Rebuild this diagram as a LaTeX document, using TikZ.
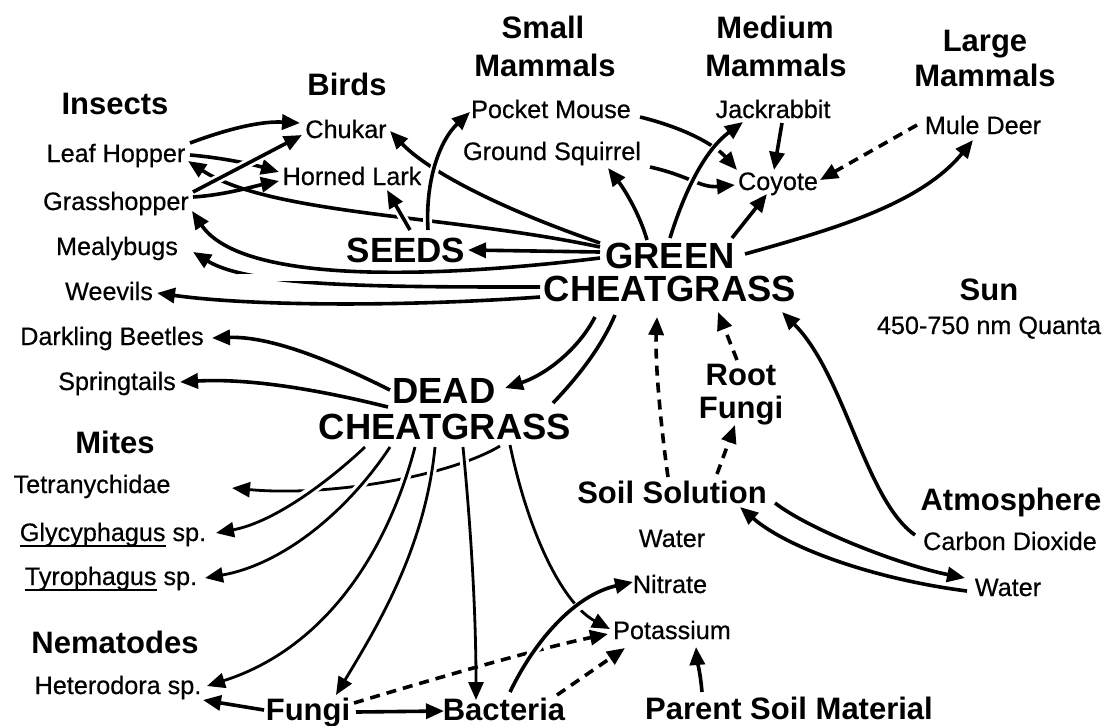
\documentclass[tikz,border=0pt]{standalone}
\usepackage{fontspec}
\setmainfont{Liberation Sans}
\newfontfamily\labfont{Liberation Sans}[FakeBold=0.5]
\usetikzlibrary{arrows.meta}
\newcommand\myul[1]{\setbox0=\hbox{#1}\rlap{\rule[-3pt]{\wd0}{0.9pt}}\box0\relax}
\begin{document}
\begin{tikzpicture}[x=0.5pt,y=-0.5pt,
  lab/.style={inner sep=0pt,anchor=base,font=\labfont\fontsize{12.6}{14}\selectfont},
  head/.style={inner sep=0pt,anchor=base,font=\fontsize{15.5}{18}\selectfont\bfseries},
  big/.style={inner sep=0pt,anchor=base,font=\fontsize{18.2}{20}\selectfont\bfseries},
  arr/.style={line width=1.8pt,-{Triangle[length=9pt,width=7.5pt]}},
  thinarr/.style={line width=1.4pt,-{Triangle[length=9pt,width=7.5pt]}},
  ln/.style={line width=1.8pt},
  dsh/.style={dash pattern=on 5pt off 3.5pt},
  halo/.style={preaction={draw=white,line width=4.5pt,-}},
]
\useasboundingbox (0,0) rectangle (1108,725);
% headings
\node[head] (insects) at (115,114) {Insects};
\node[head] (birds) at (347,95) {Birds};
\node[head] (small) at (543,38) {Small};
\node[head] (mamS) at (545,76) {Mammals};
\node[head] (medium) at (775,38) {Medium};
\node[head] (mamM) at (776,76) {Mammals};
\node[head] (large) at (985,51) {Large};
\node[head] (mamL) at (985,86) {Mammals};
% top labels
\node[lab] (leaf) at (116,162) {Leaf Hopper};
\node[lab] (grass) at (116,210) {Grasshopper};
\node[lab] (mealy) at (117,255) {Mealybugs};
\node[lab] (weev) at (109,300) {Weevils};
\node[lab] (chukar) at (346,138) {Chukar};
\node[lab] (lark) at (352,185) {Horned Lark};
\node[lab] (pmouse) at (551,118) {Pocket Mouse};
\node[lab] (gsq) at (552,160) {Ground Squirrel};
\node[lab] (jack) at (773,118) {Jackrabbit};
\node[lab] (coyote) at (778,190) {Coyote};
\node[lab] (deer) at (983,134) {Mule Deer};
% centre
\node[big,font=\fontsize{17.5}{20}\selectfont\bfseries] (seeds) at (406,262) {SEEDS};
\node[big] (green) at (670,268) {GREEN};
\node[big] (cheat) at (670,301) {CHEATGRASS};
\node[head] (sun) at (989,300) {Sun};
\node[lab] (quanta) at (989,334) {450-750 nm Quanta};
% lower left
\node[lab] (dark) at (112,345) {Darkling Beetles};
\node[lab] (spring) at (117,390) {Springtails};
\node[big] (dead) at (444,403) {DEAD};
\node[big] (dcheat) at (445,439) {CHEATGRASS};
\node[head] (mites) at (115,453) {Mites};
\node[lab] (tetra) at (92,493) {Tetranychidae};
\node[lab] (glyc) at (113,541) {\myul{Glycyphagus} sp.};
\node[lab] (tyro) at (111,585) {\myul{Tyrophagus} sp.};
\node[head] (nemat) at (115,653) {Nematodes};
\node[lab] (hetero) at (118,694) {Heterodora sp.};
\node[head] (fungi) at (308,720) {Fungi};
\node[head] (bact) at (504,720) {Bacteria};
% lower right
\node[head] (root) at (741,385) {Root};
\node[head] (rfungi) at (741,418) {Fungi};
\node[head] (soil) at (672,503) {Soil Solution};
\node[lab] (water1) at (672,547) {Water};
\node[lab] (nitrate) at (670,593) {Nitrate};
\node[lab] (potas) at (672,639) {Potassium};
\node[head] (atmos) at (1011,510) {Atmosphere};
\node[lab] (carbon) at (1010,550) {Carbon Dioxide};
\node[lab] (water2) at (1008,596) {Water};
\node[head] (parent) at (789,719) {Parent Soil Material};

% green to top-left
\draw[arr] ([shift={(-70,-21)}]green.base) .. controls (450,215) and (270,215) .. ([shift={(72,-1)}]leaf.base);
\draw[arr] ([shift={(-70,-25)}]green.base) .. controls (490,205) and (425,168) .. ([shift={(44,-7)}]chukar.base);
% insects -> birds
\draw[arr] ([shift={(74,-19)}]leaf.base) .. controls (230,128) and (262,121) .. ([shift={(-46,-15)}]chukar.base);
\draw[arr] ([shift={(74,-7)}]leaf.base) .. controls (225,158) and (255,165) .. ([shift={(-73,-13)}]lark.base);
\draw[arr,halo] ([shift={(77,-18)}]grass.base) -- ([shift={(-44,-3)}]chukar.base);
\draw[arr] ([shift={(77,-13)}]grass.base) .. controls (225,195) and (255,186) .. ([shift={(-73,-4)}]lark.base);
\draw[arr,halo] ([shift={(4,-32)}]seeds.base) -- ([shift={(35,5)}]lark.base);
\draw[arr,halo] ([shift={(22,-32)}]seeds.base) .. controls (425,180) and (440,140) .. ([shift={(-81,-6)}]pmouse.base);
\draw[arr] ([shift={(-70,-16)}]green.base) -- ([shift={(62,-12)}]seeds.base);
% green to mammals
\draw[arr] ([shift={(-23,-28)}]green.base) .. controls (640,215) and (625,190) .. ([shift={(56,8)}]gsq.base);
\draw[arr] ([shift={(89,-1)}]pmouse.base) .. controls (685,128) and (715,145) .. ([shift={(-41,-20)}]coyote.base);
\draw[arr] ([shift={(98,7)}]gsq.base) .. controls (690,176) and (700,188) .. ([shift={(-43,-5)}]coyote.base);
\draw[arr,halo] ([shift={(0,-30)}]green.base) .. controls (685,190) and (705,150) .. ([shift={(-30,4)}]jack.base);
\draw[arr] ([shift={(62,-30)}]green.base) -- ([shift={(-11,4)}]coyote.base);
\draw[arr] ([shift={(75,-14)}]green.base) .. controls (830,230) and (920,205) .. ([shift={(-10,6)}]deer.base);
\draw[arr] ([shift={(9,5)}]jack.base) -- ([shift={(-4,-20)}]coyote.base);
\draw[arr,dsh] ([shift={(-66,-9)}]deer.base) -- ([shift={(42,-10)}]coyote.base);
% green to lower insects
\draw[arr] ([shift={(-70,-10)}]green.base) .. controls (420,280) and (240,282) .. ([shift={(76,1)}]grass.base);
\draw[arr] ([shift={(-130,-14)}]cheat.base) .. controls (380,287) and (250,287) .. ([shift={(76,-3)}]mealy.base);
\draw[arr] ([shift={(-130,-4)}]cheat.base) .. controls (400,307) and (250,306) .. ([shift={(48,-7)}]weev.base);
\fill[white] (238,273.5) rectangle (538,281);
% green to dead
\draw[arr] ([shift={(-75,16)}]cheat.base) .. controls (578,350) and (545,375) .. ([shift={(61,-15)}]dead.base);
\draw[ln] ([shift={(-55,14)}]cheat.base) .. controls (600,350) and (575,380) .. ([shift={(108,-36)}]dcheat.base);
% dead cheatgrass outputs
\draw[arr] ([shift={(-54,-13)}]dead.base) .. controls (330,360) and (270,336) .. ([shift={(100,-7)}]dark.base);
\draw[arr] ([shift={(-57,-32)}]dcheat.base) .. controls (320,390) and (250,378) .. ([shift={(63,-8)}]spring.base);
\draw[thinarr] ([shift={(55,7)}]dcheat.base) .. controls (450,476) and (330,497) .. ([shift={(140,-5)}]tetra.base);
\draw[thinarr,halo] ([shift={(-80,8)}]dcheat.base) .. controls (330,480) and (275,522) .. ([shift={(103,-8)}]glyc.base);
\draw[thinarr,halo] ([shift={(-55,8)}]dcheat.base) .. controls (345,515) and (280,565) .. ([shift={(94,-7)}]tyro.base);
\draw[thinarr,halo] ([shift={(-30,8)}]dcheat.base) .. controls (385,560) and (320,650) .. ([shift={(89,-8)}]hetero.base);
\draw[thinarr,halo] ([shift={(-10,8)}]dcheat.base) .. controls (425,550) and (375,630) .. ([shift={(28,-25)}]fungi.base);
\draw[thinarr,halo] ([shift={(18,8)}]dcheat.base) .. controls (472,540) and (476,620) .. ([shift={(-28,-20)}]bact.base);
\draw[thinarr] ([shift={(65,6)}]dcheat.base) .. controls (530,540) and (565,605) .. ([shift={(-62,-10)}]potas.base);
% decomposers
\draw[arr] ([shift={(48,-8)}]fungi.base) -- ([shift={(-60,-9)}]bact.base);
\draw[arr] ([shift={(-44,-10)}]fungi.base) -- ([shift={(85,6)}]hetero.base);
\draw[arr,dsh] ([shift={(46,-17)}]fungi.base) .. controls (430,680) and (540,648) .. ([shift={(-64,-5)}]potas.base);
\draw[arr,halo] ([shift={(6,-28)}]bact.base) .. controls (535,640) and (575,595) .. ([shift={(-37,-11)}]nitrate.base);
\draw[arr,dsh] ([shift={(53,-25)}]bact.base) -- ([shift={(-47,9)}]potas.base);
\draw[arr] ([shift={(-87,-27)}]parent.base) .. controls (700,670) and (697,660) .. ([shift={(24,8)}]potas.base);
% soil solution and atmosphere
\draw[arr,dsh] ([shift={(-4,-26)}]soil.base) .. controls (660,420) and (655,360) .. ([shift={(-13,16)}]cheat.base);
\draw[arr,dsh] ([shift={(45,-29)}]soil.base) -- ([shift={(-6,7)}]rfungi.base);
\draw[arr,dsh] ([shift={(-4,-25)}]root.base) -- ([shift={(48,11)}]cheat.base);
\draw[arr] ([shift={(-95,-15)}]carbon.base) .. controls (865,500) and (845,375) .. ([shift={(112,11)}]cheat.base);
\draw[arr] ([shift={(103,0)}]soil.base) .. controls (810,530) and (900,565) .. ([shift={(-43,-18)}]water2.base);
\draw[arr] ([shift={(-41,-5)}]water2.base) .. controls (880,580) and (790,550) .. ([shift={(68,4)}]soil.base);
\end{tikzpicture}
\end{document}
